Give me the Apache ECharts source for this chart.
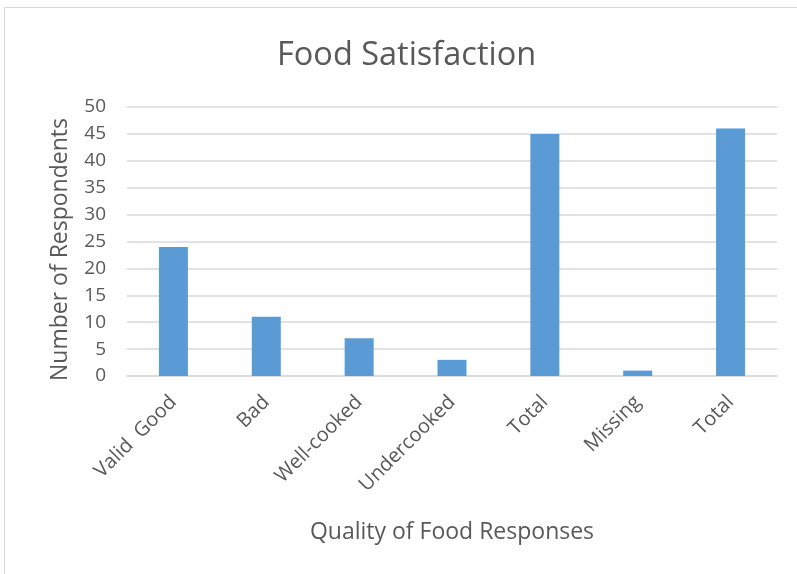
<!DOCTYPE html>
<html lang="en">
<head>
    <meta charset="UTF-8">
    <title>Food Satisfaction</title>
    <script src="https://cdn.jsdelivr.net/npm/echarts@6/dist/echarts.min.js"></script>
    <style>
        body { margin: 0; background: #fff; }
        #frame { position: absolute; left: 4px; top: 7px; width: 900px; height: 700px; border: 1.5px solid #d9d9d9; }
        #main { position: absolute; left: 0; top: 0; width: 797px; height: 574px; }
    </style>
</head>
<body>
    <div id="frame"></div>
    <div id="main"></div>

    <script>
    // 数据
    var categories = ['Valid  Good', 'Bad', 'Well-cooked', 'Undercooked', 'Total', 'Missing', 'Total'];
    var respondents = [24, 11, 7, 3, 45, 1, 46];
    var yTicks = { min: 0, max: 50, interval: 5 };

    var myChart = echarts.init(document.getElementById('main'));
    var textGrey = '#595959';
    var font = "'Open Sans', sans-serif";

    myChart.setOption({
        animation: false,
        title: {
            text: 'Food Satisfaction',
            left: 272,
            top: 34,
            textStyle: { fontFamily: font, fontWeight: 'normal', fontSize: 32.5, color: textGrey }
        },
        grid: { left: 127, right: 20, top: 107, bottom: 198 },
        xAxis: {
            type: 'category',
            data: categories,
            name: 'Quality of Food Responses',
            nameLocation: 'middle',
            nameGap: 145,
            nameTextStyle: { fontFamily: font, fontSize: 23, color: textGrey },
            axisLine: { lineStyle: { color: '#d9d9d9', width: 1.5 } },
            axisTick: { show: false },
            axisLabel: {
                rotate: 45,
                margin: 23,
                interval: 0,
                fontFamily: font,
                fontSize: 20,
                color: textGrey
            }
        },
        yAxis: {
            type: 'value',
            min: yTicks.min,
            max: yTicks.max,
            interval: yTicks.interval,
            name: 'Number of Respondents',
            nameLocation: 'middle',
            nameGap: 55,
            nameTextStyle: { fontFamily: font, fontSize: 23, color: textGrey, padding: [0, 16, 0, 0] },
            axisLine: { show: false },
            axisTick: { show: false },
            axisLabel: { fontFamily: font, fontSize: 19, color: textGrey, margin: 21 },
            splitLine: { lineStyle: { color: '#d9d9d9', width: 1.5 } }
        },
        series: [{
            type: 'bar',
            data: respondents,
            barWidth: 29,
            itemStyle: { color: '#5b9bd5' }
        }]
    });

    window.onresize = function () {
        myChart.resize();
    };
    </script>
</body>
</html>
